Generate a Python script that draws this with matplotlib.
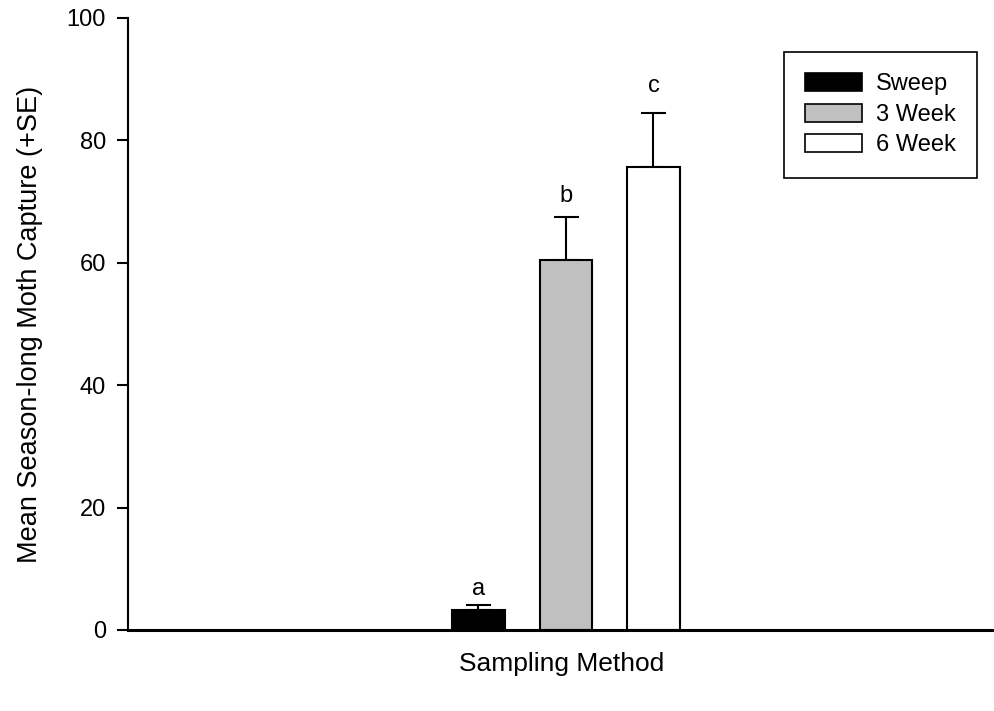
import matplotlib
matplotlib.use("Agg")
import matplotlib.pyplot as plt
from matplotlib.patches import Patch

# データ
methods = ["Sweep", "3 Week", "6 Week"]
means = [3.2, 60.4, 75.6]
errors = [0.9, 7.1, 8.9]
letters = ["a", "b", "c"]
letter_y = [5.7, 70.0, 87.9]
colors = ["black", "#c0c0c0", "white"]

plt.rcParams["font.family"] = ["Liberation Sans", "DejaVu Sans"]

fig = plt.figure(figsize=(9.95, 7.11), dpi=100)
ax = fig.add_axes([128 / 995, 81 / 711, 867 / 995, 612 / 711])

x = [0, 1, 2]
for i in range(len(methods)):
    ax.bar(x[i], means[i], width=0.6, color=colors[i], edgecolor="black",
           linewidth=1.5, zorder=2)
    ax.errorbar(x[i], means[i], yerr=[[0], [errors[i]]], fmt="none",
                ecolor="black", elinewidth=1.5, capsize=9, capthick=1.5,
                zorder=1)
    ax.text(x[i], letter_y[i], letters[i], ha="center", va="baseline",
            fontsize=17)

ax.set_xlim(-4.0, 5.9)
ax.set_ylim(0, 100)
ax.set_yticks([0, 20, 40, 60, 80, 100])
ax.set_xticks([])

ax.spines["top"].set_visible(False)
ax.spines["right"].set_visible(False)
ax.spines["left"].set_linewidth(1.5)
ax.spines["bottom"].set_linewidth(2.2)
ax.tick_params(axis="y", direction="out", length=8, width=1.5,
               labelsize=17, pad=8)

ax.set_xlabel("Sampling Method", fontsize=19, labelpad=16)
ax.set_ylabel("Mean Season-long Moth Capture (+SE)", fontsize=19.5,
              labelpad=17)

handles = [Patch(facecolor=c, edgecolor="black", linewidth=1.2)
           for c in colors]
leg = ax.legend(handles, methods, loc="upper right",
                bbox_to_anchor=(849 / 867, 1 - 34 / 612),
                fontsize=17, frameon=True, fancybox=False, edgecolor="black",
                framealpha=1, handlelength=2.4, handleheight=0.8,
                handletextpad=0.6, borderpad=0.9, labelspacing=0.35,
                borderaxespad=0)
leg.get_frame().set_linewidth(1.2)

fig.savefig("out.png", dpi=100)
plt.close()
